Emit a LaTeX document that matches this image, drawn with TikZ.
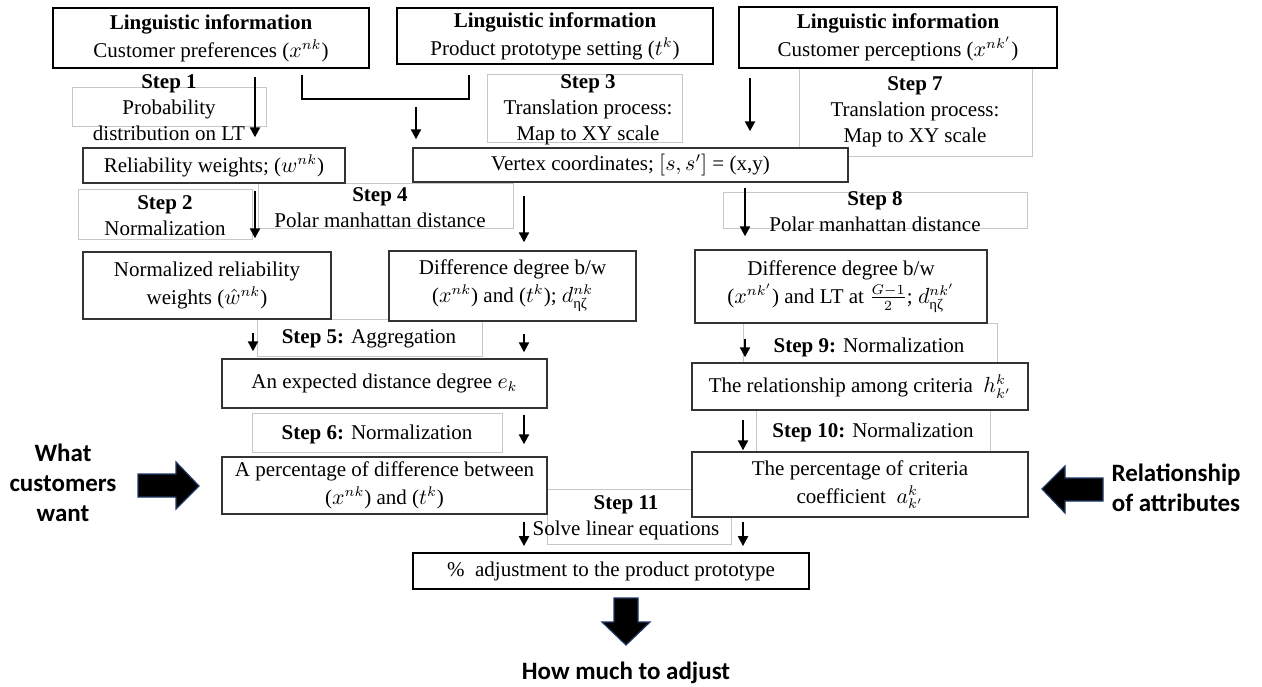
\documentclass[tikz,border=0pt]{standalone}
\usepackage{amsmath}
\usepackage{fontspec}
\setmainfont{Liberation Serif}
\newfontfamily\carl{Carlito}
\usetikzlibrary{arrows.meta}
\newcommand{\rbox}[7]{\node[#1, minimum width={(#5-#3)*0.5pt}, minimum height={(#6-#4)*0.5pt}] (#2) at ({(#3+#5)/2},{(#4+#6)/2}) {#7};}
\begin{document}
\begin{tikzpicture}[x=0.5pt,y=-0.5pt,
  mbox/.style={draw=black!80, line width=0.7pt, fill=white, inner sep=1pt, align=center, font=\fontsize{10.5}{14}\selectfont},
  tbox/.style={mbox, draw=black, line width=0.9pt},
  lbox/.style={draw=black!22, line width=0.4pt},
  lbl/.style={inner sep=0pt, align=center, font=\fontsize{10.5}{13}\selectfont},
  arr/.style={line width=1.1pt, -{Triangle[width=5pt,length=5pt]}},
  conn/.style={line width=1.3pt},
  blk/.style={fill=black, draw={rgb,255:red,32;green,56;blue,100}, line width=0.6pt, line join=miter},
  side/.style={font=\carl\bfseries\fontsize{12.5}{15}\selectfont, align=center, inner sep=0pt}]
\useasboundingbox (0,0) rectangle (1262,686);

% step label frames
\draw[lbox] (72,87) rectangle (266,126);
\draw[lbox] (78,189) rectangle (252,239);
\draw[lbox] (487,74) rectangle (682,142);
\draw[lbox] (258,183) rectangle (513,228);
\draw[lbox] (799,68) rectangle (1032,156);
\draw[lbox] (723,192) rectangle (1027,228);
\draw[lbox] (257,319) rectangle (482,356);
\draw[lbox] (252,413) rectangle (502,452);
\draw[lbox] (743,323) rectangle (997,363);
\draw[lbox] (756,410) rectangle (990,452);
\draw[lbox] (547,489) rectangle (731,544);

% main boxes
\rbox{tbox}{A}{53}{8}{369}{68}{\textbf{Linguistic information}\\Customer preferences ($x^{nk}$)}
\rbox{tbox}{B}{397}{8}{713}{64}{\textbf{Linguistic information}\\Product prototype setting ($t^{k}$)}
\rbox{tbox}{C}{739}{7}{1057}{68}{\textbf{Linguistic information}\\Customer perceptions ($x^{nk'}$)}
\rbox{mbox}{RW}{83}{148}{345}{183}{Reliability weights; ($w^{nk}$)}
\rbox{mbox}{VC}{413}{148}{848}{182}{Vertex coordinates; $[s, s']$ = (x,y)}
\rbox{mbox}{NRW}{83}{252}{331}{319}{Normalized reliability\\weights ($\hat{w}^{nk}$)}
\rbox{mbox}{DL}{389}{251}{636}{321}{Difference degree b/w\\($x^{nk}$) and ($t^{k}$); $d^{nk}_{\text{ηζ}}$}
\rbox{mbox}{DR}{695}{250}{987}{323}{Difference degree b/w\\($x^{nk'}$) and LT at $\frac{G-1}{2}$; $d^{nk'}_{\text{ηζ}}$}
\rbox{mbox}{ED}{222}{359}{547}{408}{An expected distance degree $e_{k}$}
\rbox{mbox}{PD}{222}{457}{547}{514}{A percentage of difference between\\($x^{nk}$) and ($t^{k}$)}
\rbox{mbox}{RC}{692}{363}{1028}{410}{The relationship among criteria\ \ $h^{k}_{k'}$}
\rbox{mbox}{PC}{692}{452}{1028}{517}{The percentage of criteria\\coefficient\ \ $a^{k}_{k'}$}
\rbox{tbox}{ADJ}{413}{553}{809}{589}{\%\ \ adjustment to the product prototype}

% step labels
\node[lbl] (t1) at (169,108) {\textbf{Step 1}\\Probability\\distribution on LT};
\node[lbl] (t2) at (165,216) {\textbf{Step 2}\\Normalization};
\node[lbl] (t3) at (588,110) {\textbf{Step 3}\\Translation process:\\Map to XY scale};
\node[lbl] (t4) at (380,208) {\textbf{Step 4}\\Polar manhattan distance};
\node[lbl] (t7) at (915,112) {\textbf{Step 7}\\Translation process:\\Map to XY scale};
\node[lbl] (t8) at (875,212) {\textbf{Step 8}\\Polar manhattan distance};
\node[lbl] (t5) at (369,339) {\textbf{Step 5:} Aggregation};
\node[lbl] (t6) at (377,434) {\textbf{Step 6:} Normalization};
\node[lbl] (t9) at (869,347) {\textbf{Step 9:} Normalization};
\node[lbl] (t10) at (873,432) {\textbf{Step 10:} Normalization};
\node[lbl] (t11) at (626,518) {\textbf{Step 11}\\Solve linear equations};

% side texts
\node[side] (wcw) at (63,483) {What\\customers\\want};
\node[side] (roa) at (1176,488) {Relationship\\of attributes};
\node[side] (hmta) at (626,673) {How much to adjust};

% x positions for vertical connectors
\coordinate (x255) at (255,0);
\coordinate (x416) at (416,99);
\coordinate (x750) at (750,0);
\coordinate (x524) at (524,0);
\coordinate (x745) at (745,0);
\coordinate (x253) at (253,0);
\coordinate (x743) at (743,0);
\coordinate (e1) at (302,99);
\coordinate (e2) at (469,99);

% connectors
\draw[arr, shorten <=4pt, shorten >=5pt] (A.south -| x255) -- (RW.north -| x255);
\draw[arr, shorten <=3.5pt, shorten >=6.5pt] (RW.south -| x255) -- (NRW.north -| x255);
\draw[conn] ([yshift=-3pt]A.south -| e1) -- (e1) -- (e2) -- ([yshift=-5pt]B.south -| e2);
\draw[arr, shorten <=4pt, shorten >=4pt] (x416) -- (VC.north -| x416);
\draw[arr, shorten <=4.5pt, shorten >=8pt] (C.south -| x750) -- (VC.north -| x750);
\draw[arr, shorten <=6.5pt, shorten >=4pt] (VC.south -| x524) -- (DL.north -| x524);
\draw[arr, shorten <=2.5pt, shorten >=6.5pt] (VC.south -| x745) -- (DR.north -| x745);
\draw[arr, shorten <=6.5pt, shorten >=3.5pt] (NRW.south -| x253) -- (ED.north -| x253);
\draw[arr, shorten <=6pt, shorten >=3pt] (DL.south -| x524) -- (ED.north -| x524);
\draw[arr, shorten <=3pt, shorten >=6pt] (ED.south -| x524) -- (PD.north -| x524);
\draw[arr, shorten <=7.5pt, shorten >=2.5pt] (DR.south -| x745) -- (RC.north -| x745);
\draw[arr, shorten <=4.5pt, shorten >=0.5pt] (RC.south -| x743) -- (PC.north -| x743);
\draw[arr, shorten <=3.5pt, shorten >=3pt] (PD.south -| x524) -- (ADJ.north -| x524);
\draw[arr, shorten <=2pt, shorten >=3pt] (PC.south -| x743) -- (ADJ.north -| x743);

% block arrows
\draw[blk] (138,474) -- (176,474) -- (176,462) -- (199,486) -- (176,509) -- (176,497) -- (138,497) -- cycle;
\draw[blk] (1042,489) -- (1065,466) -- (1065,478) -- (1103,478) -- (1103,501) -- (1065,501) -- (1065,513) -- cycle;
\draw[blk] (614,598) -- (638,598) -- (638,622) -- (650,622) -- (626,645) -- (602,622) -- (614,622) -- cycle;
\end{tikzpicture}
\end{document}
